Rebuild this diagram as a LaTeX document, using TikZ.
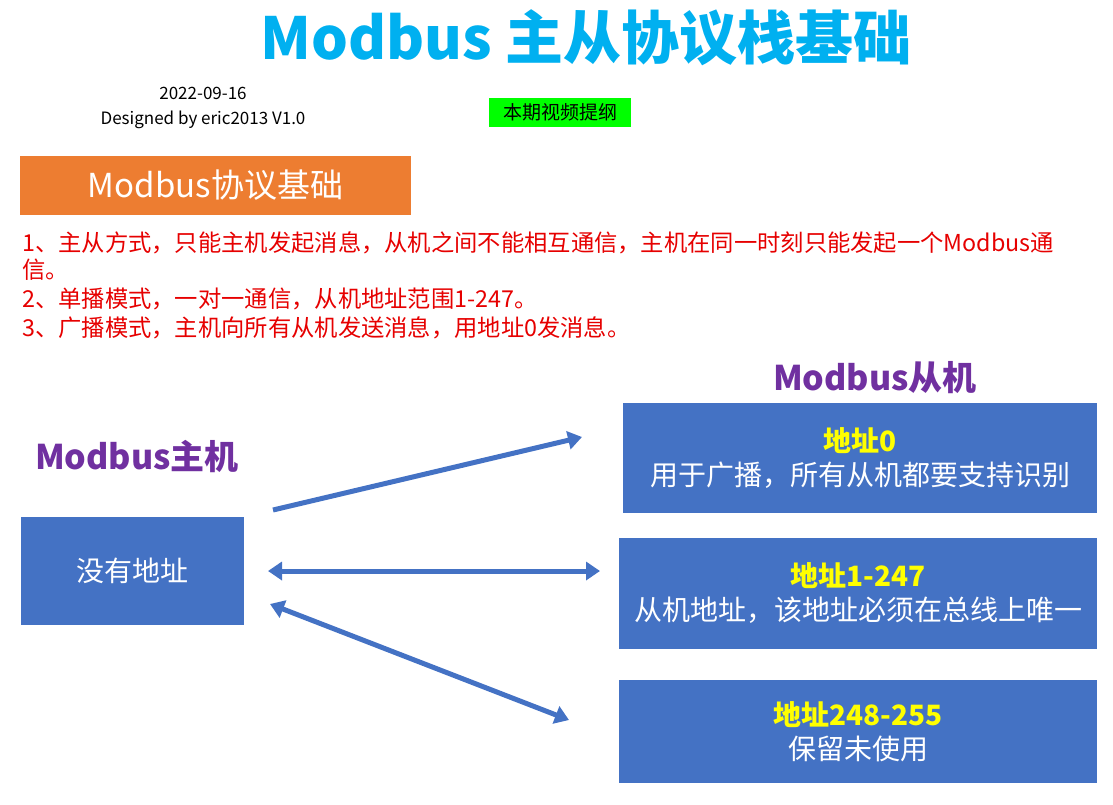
\documentclass[tikz,border=0pt]{standalone}
\usepackage{fontspec}
\setmainfont{Noto Sans CJK SC}
\usetikzlibrary{arrows.meta}
\definecolor{ttl}{RGB}{0,176,240}
\definecolor{org}{RGB}{237,125,49}
\definecolor{bl}{RGB}{68,114,196}
\definecolor{pur}{RGB}{112,48,160}
\definecolor{rd}{RGB}{230,0,0}
\definecolor{yl}{RGB}{255,255,0}
\tikzset{
 box/.style={fill=bl,draw=none,inner sep=0pt},
 wt/.style={text=white,font=\fontsize{28}{34}\selectfont,align=center},
 red/.style={text=rd,anchor=west,font=\fontsize{23.3}{26}\selectfont,inner sep=0pt},
 arr/.style={draw=bl,line width=5pt,-{Triangle[length=14pt,width=18pt]}},
 darr/.style={draw=bl,line width=5pt,{Triangle[length=14pt,width=18pt]}-{Triangle[length=14pt,width=18pt]}},
 hd/.style={text=pur,font=\bfseries\fontsize{34}{40}\selectfont},
}
\begin{document}
\begin{tikzpicture}[x=1pt,y=-1pt]
\useasboundingbox (0,0) rectangle (1113,804);
\node[text=ttl,font=\bfseries\fontsize{58}{66}\selectfont] (title) at (586,38) {Modbus 主从协议栈基础};
\node[font=\fontsize{17}{25}\selectfont,align=center] (date) at (203,108) {2022-09-16\\Designed by eric2013 V1.0};
\node[fill=green,minimum width=142pt,minimum height=29pt,inner sep=0pt,font=\fontsize{19}{22}\selectfont] (outline) at (560,112.5) {本期视频提纲};
\node[fill=org,minimum width=391pt,minimum height=59pt,inner sep=0pt,text=white,font=\fontsize{33}{38}\selectfont] (basic) at (215.5,185.5) {Modbus协议基础};
\node[red] (l1) at (22,243) {1、主从方式，只能主机发起消息，从机之间不能相互通信，主机在同一时刻只能发起一个Modbus通};
\node[red] (l1b) at (22,270) {信。};
\node[red] (l2) at (22,299) {2、单播模式，一对一通信，从机地址范围1-247。};
\node[red] (l3) at (22,328) {3、广播模式，主机向所有从机发送消息，用地址0发消息。};
\node[hd] (hs) at (875,378) {Modbus从机};
\node[hd] (hm) at (137,456) {Modbus主机};
\node[box,minimum width=223pt,minimum height=108pt,wt] (m) at (132.5,571) {没有地址};
\node[box,minimum width=474pt,minimum height=110pt,wt] (s1) at (860,458) {\textcolor{yl}{\bfseries 地址0}\\用于广播，所有从机都要支持识别};
\node[box,minimum width=478pt,minimum height=111pt,wt] (s2) at (858,593.5) {\textcolor{yl}{\bfseries 地址1-247}\\从机地址，该地址必须在总线上唯一};
\node[box,minimum width=478pt,minimum height=103pt,wt] (s3) at (858,731.5) {\textcolor{yl}{\bfseries 地址248-255}\\保留未使用};
\coordinate (a1s) at (273,510); \coordinate (a1e) at (582,437);
\coordinate (a2s) at (268,571); \coordinate (a2e) at (600,571);
\coordinate (a3s) at (270,604); \coordinate (a3e) at (569,720);
\draw[arr] (a1s) -- (a1e);
\draw[darr] (a2s) -- (a2e);
\draw[darr] (a3s) -- (a3e);
\end{tikzpicture}
\end{document}
